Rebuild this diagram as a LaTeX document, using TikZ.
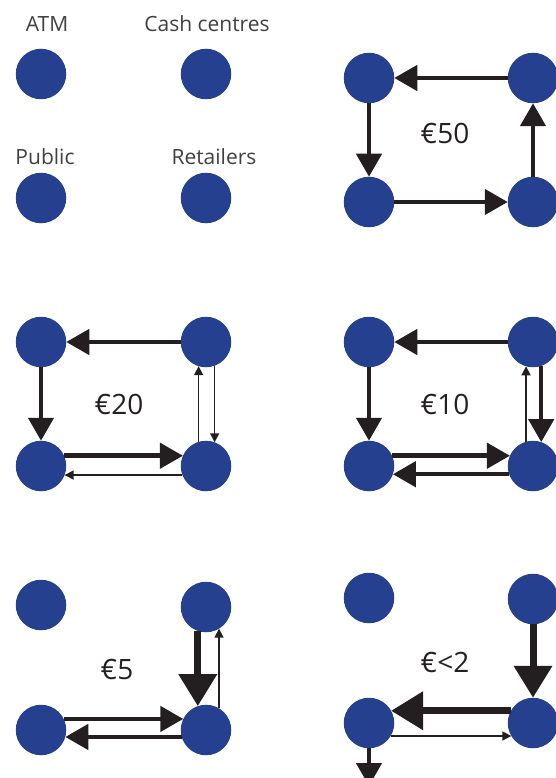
\documentclass[tikz,border=0pt]{standalone}
\usepackage{fontspec}
\setmainfont{Open Sans}
\usetikzlibrary{arrows.meta}
\definecolor{hubblue}{RGB}{37,64,143}
\definecolor{inkblack}{RGB}{35,31,32}
\definecolor{labgray}{RGB}{64,64,64}
\tikzset{
	hub/.style={circle, fill=hubblue, minimum size=50.5pt, inner sep=0pt, outer sep=0pt},
	lab/.style={font=\fontsize{21}{21}\selectfont, text=labgray},
	val/.style={font=\fontsize{28}{28}\selectfont, text=inkblack},
	fthin/.style={draw=inkblack, line width=1.5pt, -{Triangle[length=9pt,width=9pt]}},
	fmid/.style={draw=inkblack, line width=4.5pt, -{Triangle[length=23pt,width=25pt]}},
	fbig/.style={draw=inkblack, line width=7pt, -{Triangle[length=32pt,width=37pt]}}
}
\begin{document}
\begin{tikzpicture}[x=1pt, y=-1pt, line join=miter]
	\useasboundingbox (0,0) rectangle (556,778);
	\clip (0,0) rectangle (556,778);
	\foreach \n/\px/\py in {atm/41/74, cc/206/74, pub/41/198, ret/206/198,
		a1/369/78, c1/533/78, p1/369/202, r1/533/202,
		a2/41/342, c2/206/342, p2/41/466, r2/206/466,
		a3/369/342, c3/533/342, p3/369/466, r3/533/466,
		a4/41/605, c4/206/607, p4/41/730, r4/206/730,
		a5/369/598, c5/533/599, p5/369/723, r5/533/723}
		\node[hub] (\n) at (\px,\py) {};
	\node[lab] (atmlab) at (47,24) {ATM};
	\node[lab] (cclab) at (207,24) {Cash centres};
	\node[lab] (publab) at (45,157) {Public};
	\node[lab] (retlab) at (214,157) {Retailers};
	% euro 50
	\node[val] (v50) at (445,133) {€50};
	\draw[fmid] (c1)--(a1);
	\draw[fmid] (a1)--(p1);
	\draw[fmid] (p1)--(r1);
	\draw[fmid] (r1)--(c1);
	% euro 20
	\node[val] (v20) at (119,404) {€20};
	\draw[fmid] (c2)--(a2);
	\draw[fmid] (a2)--(p2);
	\draw[fmid] (p2.24)--(r2.156);
	\draw[fthin] (r2.-159)--(p2.-21);
	\draw[fthin] (r2.107)--(c2.-107);
	\draw[fthin] (c2.-70)--(r2.70);
	% euro 10
	\node[val] (v10) at (445,404) {€10};
	\draw[fmid] (c3)--(a3);
	\draw[fmid] (a3)--(p3);
	\draw[fmid] (p3.24)--(r3.156);
	\draw[fmid] (r3.-161)--(p3.-19);
	\draw[fthin] (r3.106)--(c3.-106);
	\draw[fmid] (c3.-71)--(r3.71);
	% euro 5
	\node[val] (v5) at (117,669) {€5};
	\draw[fbig] (c4.-109)--(r4.109);
	\draw[fthin] (r4.59)--(c4.-59);
	\draw[fmid] (p4.26)--(r4.154);
	\draw[fmid] (r4.-164)--(p4.-16);
	% euro <2
	\node[val] (v2) at (445,662) {€<2};
	\coordinate (down) at (369,786);
	\draw[fbig] (c5)--(r5);
	\draw[fbig] (r5.151)--(p5.29);
	\draw[fthin] (p5.-31)--(r5.-149);
	\draw[fmid] (p5)--(down);
\end{tikzpicture}
\end{document}
